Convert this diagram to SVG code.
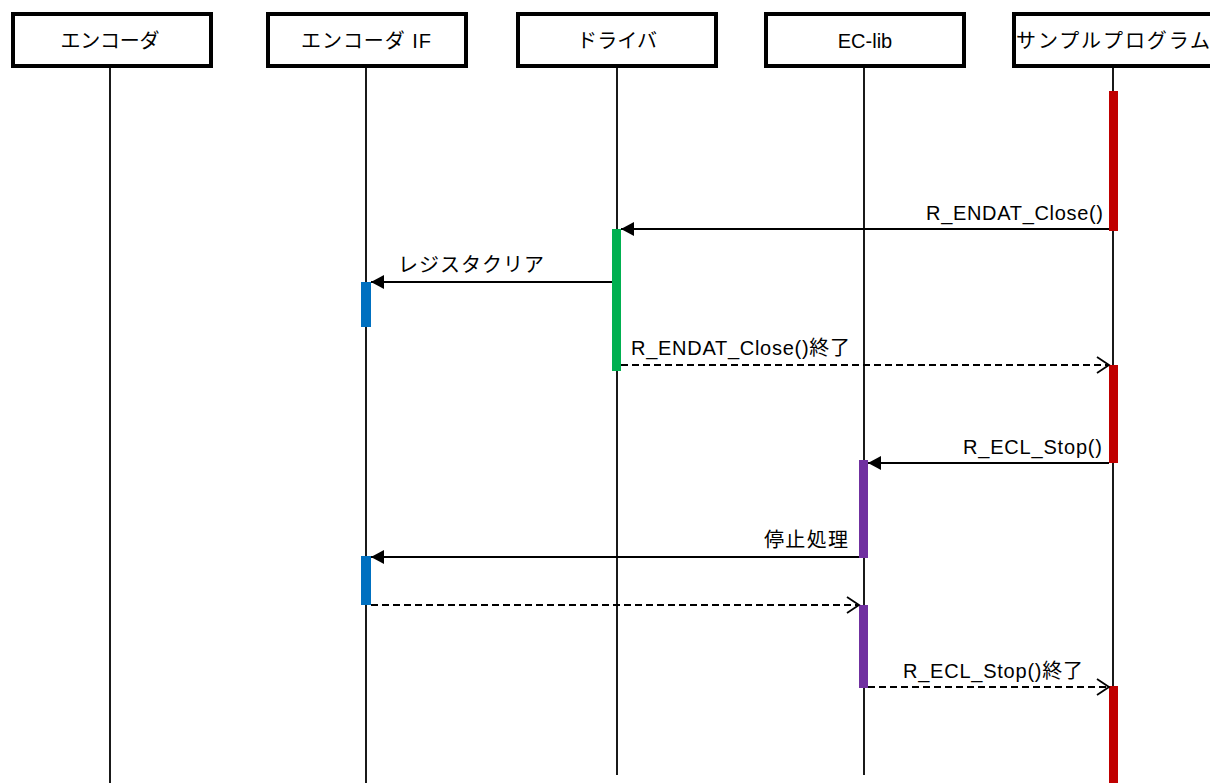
<svg xmlns="http://www.w3.org/2000/svg" width="1210" height="783" viewBox="0 0 1210 783">
<style>
.box{fill:#fff;stroke:#000;stroke-width:4}
.life{stroke:#000;stroke-width:1.8;fill:none}
.t{font-family:"Liberation Sans","Noto Sans CJK JP",sans-serif;font-size:20px;fill:#000}
.msg{stroke:#000;stroke-width:2;fill:none}
.dash{stroke:#000;stroke-width:1.8;fill:none;stroke-dasharray:7,4}
.red{fill:#c00000}
.green{fill:#00b050}
.blue{fill:#0070c0}
.purple{fill:#7030a0}
</style>
<defs>
<marker id="fill" markerUnits="userSpaceOnUse" markerWidth="14" markerHeight="16" refX="13" refY="7" orient="auto">
<path d="M0,0 L13,7 L0,14 z" fill="#000"/>
</marker>
<marker id="open" markerUnits="userSpaceOnUse" markerWidth="16" markerHeight="20" refX="13" refY="9" orient="auto">
<path d="M1,1 L13,9 L1,17" fill="none" stroke="#000" stroke-width="1.8"/>
</marker>
</defs>
<rect width="1210" height="783" fill="#fff"/>

<g id="encoder">
<rect class="box" x="13" y="14" width="198" height="52"/>
<line class="life" x1="110" y1="66" x2="110" y2="783"/>
<text class="t" x="110" y="48" text-anchor="middle" textLength="99" lengthAdjust="spacing">エンコーダ</text>
</g>
<g id="encoder-if">
<rect class="box" x="268" y="14" width="198" height="52"/>
<line class="life" x1="366" y1="66" x2="366" y2="783"/>
<text class="t" x="366" y="48" text-anchor="middle" textLength="130" lengthAdjust="spacing">エンコーダ IF</text>
<rect class="blue" x="361" y="282" width="10" height="45"/>
<rect class="blue" x="361" y="556" width="10" height="49"/>
</g>
<g id="driver">
<rect class="box" x="518" y="14" width="198" height="52"/>
<line class="life" x1="617" y1="66" x2="617" y2="775"/>
<text class="t" x="617" y="48" text-anchor="middle" textLength="80" lengthAdjust="spacing">ドライバ</text>
<rect class="green" x="612" y="229" width="9" height="142"/>
</g>
<g id="eclib">
<rect class="box" x="766" y="14" width="198" height="52"/>
<line class="life" x1="864" y1="66" x2="864" y2="775"/>
<text class="t" x="865" y="48" text-anchor="middle">EC-lib</text>
<rect class="purple" x="859" y="460" width="9" height="98"/>
<rect class="purple" x="859" y="605" width="9" height="83"/>
</g>
<g id="sample">
<rect class="box" x="1014" y="14" width="200" height="52"/>
<line class="life" x1="1113" y1="66" x2="1113" y2="783"/>
<text class="t" x="1016" y="48" textLength="194" lengthAdjust="spacing">サンプルプログラム</text>
<rect class="red" x="1109" y="91" width="9" height="140"/>
<rect class="red" x="1109" y="365" width="9" height="98"/>
<rect class="red" x="1109" y="686" width="9" height="97"/>
</g>

<g id="connectors">
<line class="msg" x1="1109" y1="229" x2="621" y2="229" marker-end="url(#fill)"/>
<text class="t" x="1103" y="220" text-anchor="end" textLength="177" lengthAdjust="spacing">R_ENDAT_Close()</text>

<line class="msg" x1="612" y1="282" x2="371" y2="282" marker-end="url(#fill)"/>
<text class="t" x="398" y="272" textLength="146" lengthAdjust="spacing">レジスタクリア</text>

<line class="dash" x1="621" y1="365" x2="1109" y2="365" marker-end="url(#open)"/>
<text class="t" x="631" y="355" textLength="219" lengthAdjust="spacing">R_ENDAT_Close()終了</text>

<line class="msg" x1="1109" y1="463" x2="868" y2="463" marker-end="url(#fill)"/>
<text class="t" x="1102" y="454" text-anchor="end" textLength="139" lengthAdjust="spacing">R_ECL_Stop()</text>

<line class="msg" x1="859" y1="557" x2="371" y2="557" marker-end="url(#fill)"/>
<text class="t" x="848" y="547" text-anchor="end" textLength="84" lengthAdjust="spacing">停止処理</text>

<line class="dash" x1="371" y1="605" x2="859" y2="605" marker-end="url(#open)"/>

<line class="dash" x1="868" y1="687" x2="1109" y2="687" marker-end="url(#open)"/>
<text class="t" x="903" y="678" textLength="180" lengthAdjust="spacing">R_ECL_Stop()終了</text>
</g>
</svg>
